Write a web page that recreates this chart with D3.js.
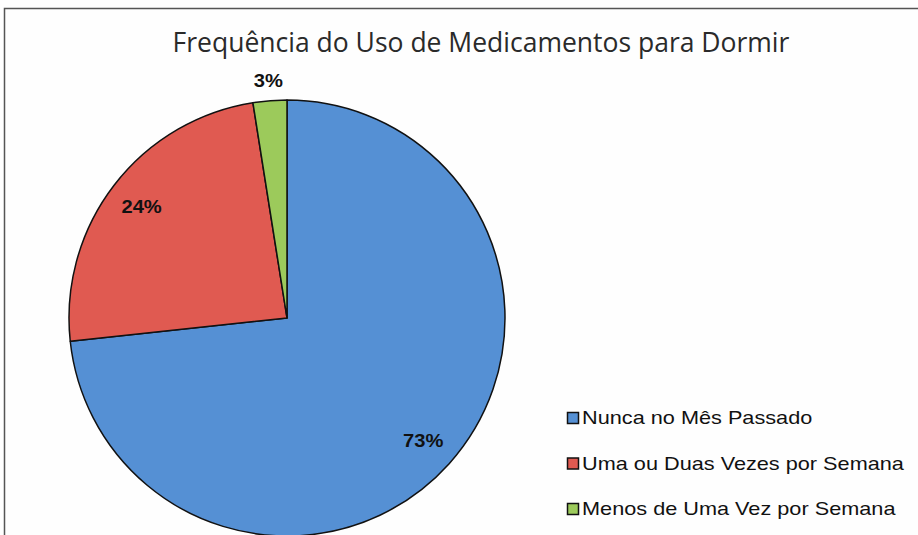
<!DOCTYPE html>
<html>
<head>
<meta charset="utf-8">
<script src="https://cdn.jsdelivr.net/npm/d3@7"></script>
<style>
  html, body { margin: 0; padding: 0; background: #fff; }
  svg { display: block; }
</style>
</head>
<body>
<div id="chart"></div>
<script>
// chart data
const title = "Frequência do Uso de Medicamentos para Dormir";
const categories = ["Nunca no Mês Passado", "Uma ou Duas Vezes por Semana", "Menos de Uma Vez por Semana"];
const values = [73.3, 24.2, 2.5];
const labels = ["73%", "24%", "3%"];
const colors = ["#5590d4", "#e05a51", "#9cca5b"];

const width = 918, height = 535;
const cx = 287, cy = 318, radius = 218;

const svg = d3.select("#chart").append("svg")
    .attr("width", width)
    .attr("height", height);

// outer frame
svg.append("rect")
    .attr("x", 4.5).attr("y", 8.5)
    .attr("width", width + 10).attr("height", height)
    .attr("fill", "#fefefe")
    .attr("stroke", "#555").attr("stroke-width", 1.5);

svg.append("text")
    .attr("x", 481).attr("y", 52)
    .attr("text-anchor", "middle")
    .style("font-family", "'Liberation Sans Narrow', 'Open Sans', sans-serif")
    .style("font-size", "26.5px")
    .style("fill", "#2a2a2a")
    .text(title);

const pie = d3.pie().sort(null).value(d => d)(values);
const arc = d3.arc().innerRadius(0).outerRadius(radius);

const g = svg.append("g").attr("transform", `translate(${cx},${cy})`);

g.selectAll("path")
    .data(pie)
    .enter().append("path")
    .attr("d", arc)
    .attr("fill", (d, i) => colors[i])
    .attr("stroke", "#111")
    .attr("stroke-width", 1.5)
    .attr("stroke-linejoin", "round");

// labels: inside for big slices, outside for the small one
const inner = d3.arc().innerRadius(radius * 0.84).outerRadius(radius * 0.84);
const outer = d3.arc().innerRadius(radius + 20).outerRadius(radius + 20);

g.selectAll("text.lbl")
    .data(pie)
    .enter().append("text")
    .attr("class", "lbl")
    .attr("transform", d => {
        const p = (d.value < 5 ? outer : inner).centroid(d);
        return `translate(${p[0]},${p[1]}) scale(1.12,1)`;
    })
    .attr("text-anchor", "middle")
    .attr("dy", "0.35em")
    .style("font-family", "'Liberation Sans', Arial, sans-serif")
    .style("font-weight", "bold")
    .style("font-size", "18px")
    .style("fill", "#111")
    .text((d, i) => labels[i]);

// legend (text in the source is stretched sideways)
const legend = svg.append("g").attr("transform", "translate(567,0)");
const rowY = d3.scalePoint().domain(categories).range([418, 509]);

const item = legend.selectAll("g")
    .data(categories)
    .enter().append("g")
    .attr("transform", d => `translate(0,${rowY(d)})`);

item.append("rect")
    .attr("x", 0.5).attr("y", -5.5)
    .attr("width", 11).attr("height", 11)
    .attr("fill", (d, i) => colors[i])
    .attr("stroke", "#111").attr("stroke-width", 1.5);

item.append("text")
    .attr("transform", "translate(15,0) scale(1.24,1)")
    .attr("dy", "0.35em")
    .style("font-family", "'Liberation Sans', Arial, sans-serif")
    .style("font-size", "17.5px")
    .style("fill", "#111")
    .text(d => d);
</script>
</body>
</html>
